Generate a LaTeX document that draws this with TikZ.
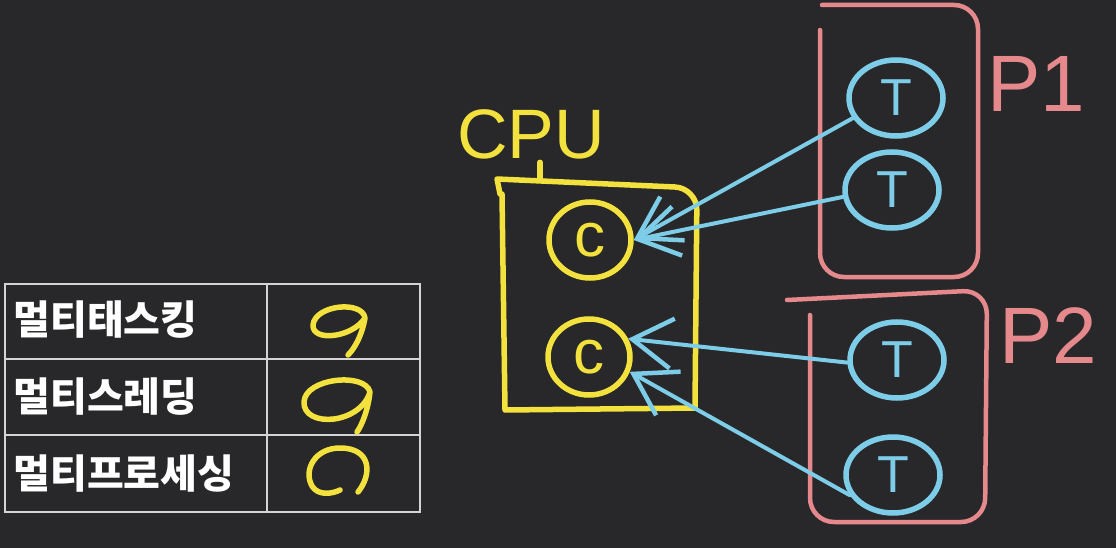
\documentclass[tikz,border=0pt]{standalone}
\usepackage{fontspec}
\setmainfont{Liberation Sans}
\newfontfamily\kofont{Noto Sans CJK KR}
\usepackage{tikz}
\usetikzlibrary{arrows.meta,shapes.geometric,calc}
\definecolor{board}{HTML}{28282A}
\definecolor{chalk}{HTML}{D4D4D4}
\definecolor{penyel}{HTML}{F3E23E}
\definecolor{penblue}{HTML}{7DCDE8}
\definecolor{penpink}{HTML}{E5898D}
\tikzset{
  tgrid/.style={draw=chalk,line width=2.4pt},
  tlabel/.style={anchor=west,text=white,font=\kofont\bfseries\fontsize{40}{46}\selectfont},
  ymark/.style={draw=penyel,line width=5.5pt,line cap=round,line join=round},
  core/.style={ellipse,draw=penyel,line width=5.5pt,minimum width=82pt,minimum height=76pt,inner sep=0pt,text=penyel,font=\fontsize{62}{62}\selectfont},
  thread/.style={ellipse,draw=penblue,line width=5.5pt,minimum width=94pt,minimum height=76pt,inner sep=0pt,text=penblue,font=\fontsize{52}{52}\selectfont},
  tarr/.style={-{Straight Barb[length=40pt,width=50pt,line width=4.5pt]},draw=penblue,line width=4pt,line cap=round},
  pbox/.style={draw=penpink,line width=4.5pt,line cap=round,rounded corners=24pt},
  plabel/.style={text=penpink,font=\fontsize{80}{80}\selectfont}
}
\begin{document}
\begin{tikzpicture}[x=1pt,y=-1pt]
  \fill[board] (0,0) rectangle (1116,548);
  \useasboundingbox (0,0) rectangle (1116,548);
  % table
  \draw[tgrid] (5,284) rectangle (420,512);
  \draw[tgrid] (267,284) -- (267,512);
  \draw[tgrid] (5,359) -- (420,359);
  \draw[tgrid] (5,435) -- (420,435);
  \node[tlabel] (mtask) at (10,320) {멀티태스킹};
  \node[tlabel] (mthread) at (10,397) {멀티스레딩};
  \node[tlabel] (mproc) at (10,474) {멀티프로세싱};
  \draw[ymark] (365,318) .. controls (362,300) and (315,305) .. (313,325) .. controls (312,342) and (352,338) .. (365,318) .. controls (362,335) and (355,348) .. (348,355);
  \draw[ymark] (370,392) .. controls (365,372) and (305,378) .. (304,402) .. controls (303,428) and (360,425) .. (370,392) .. controls (368,410) and (362,425) .. (357,432);
  \draw[ymark] (358,492) .. controls (372,475) and (372,448) .. (340,448) .. controls (315,448) and (303,470) .. (312,486) .. controls (318,496) and (332,494) .. (340,490);
  % cpu with two cores
  \node[text=penyel,font=\fontsize{70}{70}\selectfont] (cpu) at (531,134) {CPU};
  \coordinate (stub) at (540,179);
  \draw[ymark] (stub |- cpu.south) -- (stub);
  \draw[ymark] (500,194) -- (497,179) [rounded corners=22pt] -- (697,188) [sharp corners] -- (695,408) -- (505,410) -- (502,194);
  \node[core] (c1) at (590,240) {c};
  \node[core] (c2) at (589,357) {c};
  % processes with threads
  \draw[pbox] (822,5) -- (978,5) -- (978,277) -- (820,277) -- (820,30);
  \draw[pbox] (787,300) -- (987,290) -- (985,522) -- (810,522) -- (810,315);
  \node[plabel] (p1) at (1036,84) {P1};
  \node[plabel] (p2) at (1048,336) {P2};
  \node[thread] (t1) at (896,98) {T};
  \node[thread] (t2) at (892,190) {T};
  \node[thread] (t3) at (897,360) {T};
  \node[thread] (t4) at (893,475) {T};
  \draw[tarr] (t1.205) -- (c1.east);
  \draw[tarr] (t2.188) -- (c1.east);
  \draw[tarr] (t3.183) -- (c2.25);
  \draw[tarr] (t4.205) -- (c2.-20);
\end{tikzpicture}
\end{document}
